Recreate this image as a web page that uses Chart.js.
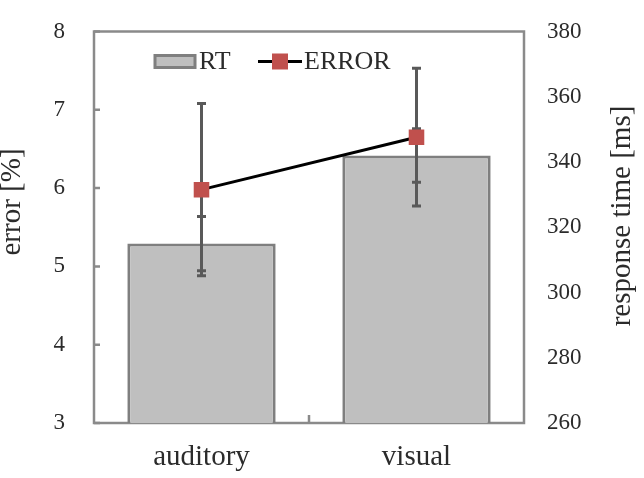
<html lang="en">
<head>
    <meta charset="utf-8"/>
    <title>RT and ERROR</title>
    <script src="https://cdn.jsdelivr.net/npm/chart.js"></script>
    <style>
        body { margin: 0; background: #fff; }
        #wrap { width: 644px; height: 478px; }
    </style>
</head>
<body>
<div id="wrap"><canvas id="chart" width="644" height="478"></canvas></div>
<script>
    // data
    const categories = ['auditory', 'visual'];
    const rtValues = [315, 342];
    const rtErr = [8.3, 8.2];
    const errorValues = [5.98, 6.65];
    const errorErr = [1.1, 0.88];

    const serif = "'Liberation Serif', 'Times New Roman', serif";
    const textColor = '#2b2b2b';
    const frameColor = '#8a8a8a';
    const whiskerColor = '#595959';

    function drawWhiskers(chart, scaleId, values, errs) {
        const ctx = chart.ctx;
        const x = chart.scales.x;
        const y = chart.scales[scaleId];
        ctx.save();
        ctx.strokeStyle = whiskerColor;
        ctx.lineWidth = 3;
        values.forEach((v, i) => {
            const px = x.getPixelForValue(i);
            const top = y.getPixelForValue(v + errs[i]);
            const bot = y.getPixelForValue(v - errs[i]);
            ctx.beginPath();
            ctx.moveTo(px, top);
            ctx.lineTo(px, bot);
            ctx.moveTo(px - 4.5, top);
            ctx.lineTo(px + 4.5, top);
            ctx.moveTo(px - 4.5, bot);
            ctx.lineTo(px + 4.5, bot);
            ctx.stroke();
        });
        ctx.restore();
    }

    const errorBars = {
        id: 'errorBars',
        beforeDatasetDraw(chart, args) {
            if (args.index === 0) drawWhiskers(chart, 'y', errorValues, errorErr);
        },
        afterDatasetDraw(chart, args) {
            if (args.index === 1) drawWhiskers(chart, 'y1', rtValues, rtErr);
        }
    };

    // frame, inner ticks, titles and legend
    const decorations = {
        id: 'decorations',
        beforeDatasetsDraw(chart) {
            const ctx = chart.ctx;
            const a = chart.chartArea;
            ctx.save();
            ctx.strokeStyle = frameColor;
            ctx.lineWidth = 2.5;
            ctx.strokeRect(a.left, a.top, a.right - a.left, a.bottom - a.top);
            ctx.beginPath();
            chart.scales.y.ticks.forEach(t => {
                const py = chart.scales.y.getPixelForValue(t.value);
                ctx.moveTo(a.left, py);
                ctx.lineTo(a.left + 6, py);
            });
            const xs = chart.scales.x;
            for (let i = 0; i < categories.length - 1; i++) {
                const px = (xs.getPixelForValue(i) + xs.getPixelForValue(i + 1)) / 2;
                ctx.moveTo(px, a.bottom);
                ctx.lineTo(px, a.bottom - 8);
            }
            ctx.stroke();
            ctx.restore();
        },
        afterDraw(chart) {
            const ctx = chart.ctx;
            const a = chart.chartArea;
            ctx.save();
            ctx.fillStyle = textColor;
            ctx.textBaseline = 'middle';
            ctx.textAlign = 'center';
            ctx.font = '29px ' + serif;
            ctx.translate(12, 202);
            ctx.rotate(-Math.PI / 2);
            ctx.fillText('error [%]', 0, 0);
            ctx.restore();

            ctx.save();
            ctx.fillStyle = textColor;
            ctx.textBaseline = 'middle';
            ctx.textAlign = 'center';
            ctx.font = '29px ' + serif;
            ctx.translate(622, 216);
            ctx.rotate(-Math.PI / 2);
            ctx.fillText('response time [ms]', 0, 0);
            ctx.restore();

            // legend
            const ly = a.top + 30;
            ctx.save();
            ctx.fillStyle = '#bfbfbf';
            ctx.strokeStyle = '#7f7f7f';
            ctx.lineWidth = 3;
            ctx.fillRect(a.left + 61, ly - 6, 40, 12);
            ctx.strokeRect(a.left + 61, ly - 6, 40, 12);
            ctx.strokeStyle = '#000';
            ctx.beginPath();
            ctx.moveTo(a.left + 164, ly);
            ctx.lineTo(a.left + 208, ly);
            ctx.stroke();
            ctx.fillStyle = '#c0504d';
            ctx.fillRect(a.left + 178, ly - 8, 16, 16);
            ctx.fillStyle = textColor;
            ctx.font = '26px ' + serif;
            ctx.textBaseline = 'middle';
            ctx.fillText('RT', a.left + 105, ly + 1);
            ctx.fillText('ERROR', a.left + 210, ly + 1);
            ctx.restore();
        }
    };

    // vertical axes: fixed width, and keep the big label padding out of the layout
    function fixAxis(width) {
        return function (scale) {
            scale.width = width;
            scale.paddingTop = 10;
            scale.paddingBottom = 10;
        };
    }

    new Chart(document.getElementById('chart'), {
        data: {
            labels: categories,
            datasets: [
                {
                    type: 'line',
                    label: 'ERROR',
                    data: errorValues,
                    yAxisID: 'y',
                    borderColor: '#000000',
                    borderWidth: 3,
                    pointStyle: 'rect',
                    pointRadius: 11,
                    pointBackgroundColor: '#c0504d',
                    pointBorderColor: '#c0504d',
                    pointBorderWidth: 0,
                    tension: 0
                },
                {
                    type: 'bar',
                    label: 'RT',
                    data: rtValues,
                    yAxisID: 'y1',
                    backgroundColor: '#bfbfbf',
                    borderColor: '#7f7f7f',
                    borderWidth: 3,
                    barPercentage: 0.69,
                    categoryPercentage: 1.0
                }
            ]
        },
        options: {
            responsive: false,
            animation: false,
            layout: { padding: { top: 31.5, left: 0, right: 0, bottom: 0 } },
            plugins: {
                legend: { display: false },
                tooltip: { enabled: false }
            },
            scales: {
                x: {
                    type: 'category',
                    offset: true,
                    grid: { display: false, drawTicks: false },
                    border: { display: false },
                    ticks: {
                        padding: 17,
                        color: textColor,
                        font: { family: serif, size: 29 }
                    },
                    afterFit(scale) { scale.height = 55; }
                },
                y: {
                    position: 'left',
                    min: 3,
                    max: 8,
                    grid: { display: false, drawTicks: false },
                    border: { display: false },
                    ticks: {
                        stepSize: 1,
                        padding: 29,
                        color: textColor,
                        font: { family: serif, size: 23 }
                    },
                    afterFit: fixAxis(94)
                },
                y1: {
                    position: 'right',
                    min: 260,
                    max: 380,
                    grid: { display: false, drawTicks: false },
                    border: { display: false },
                    ticks: {
                        stepSize: 20,
                        padding: 23,
                        color: textColor,
                        font: { family: serif, size: 23 }
                    },
                    afterFit: fixAxis(120)
                }
            }
        },
        plugins: [errorBars, decorations]
    });
</script>
</body>
</html>
